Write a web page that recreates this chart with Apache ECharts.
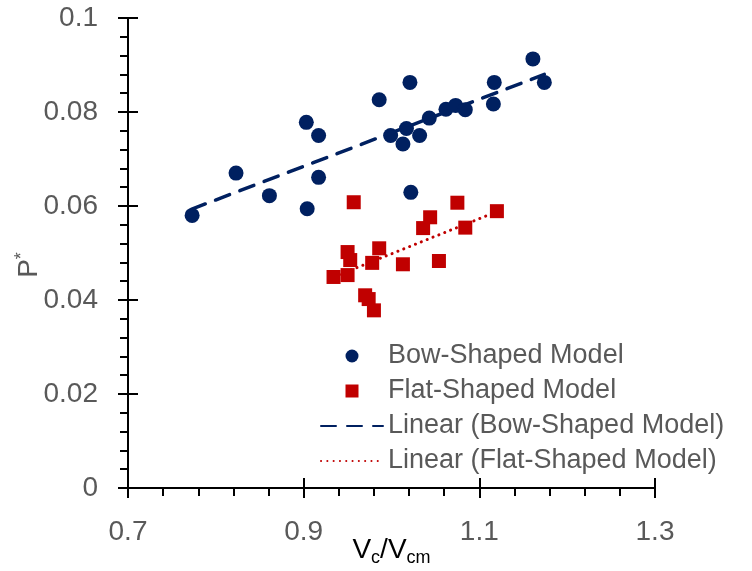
<!DOCTYPE html>
<html>
<head>
<meta charset="utf-8">
<script src="https://cdn.jsdelivr.net/npm/echarts@6/dist/echarts.min.js"></script>
<style>html,body{margin:0;padding:0;background:#fff}#c{width:752px;height:571px}</style>
</head>
<body>
<div id="c"></div>
<script>
// Bow-Shaped Model (circles)
const bowX = [0.773, 0.823, 0.861, 0.903, 0.904, 0.917, 0.917, 0.986, 0.999, 1.013, 1.017, 1.021, 1.032, 1.022, 1.043, 1.062, 1.073, 1.084, 1.117, 1.116, 1.161, 1.174];
const bowY = [0.0580, 0.0670, 0.0622, 0.0778, 0.0594, 0.0750, 0.0661, 0.0826, 0.0750, 0.0732, 0.0765, 0.0863, 0.0750, 0.0629, 0.0787, 0.0806, 0.0814, 0.0805, 0.0863, 0.0817, 0.0913, 0.0863];
// Flat-Shaped Model (squares)
const flatX = [0.957, 1.044, 1.036, 1.075, 1.084, 1.120, 0.950, 0.953, 0.986, 0.978, 1.013, 1.054, 0.934, 0.950, 0.970, 0.974, 0.980];
const flatY = [0.0608, 0.0576, 0.0553, 0.0607, 0.0554, 0.0589, 0.0502, 0.0485, 0.0510, 0.0479, 0.0476, 0.0483, 0.0449, 0.0453, 0.0410, 0.0402, 0.0378];
// Linear trend lines (end points)
const bowTrendX = [0.772, 1.174];
const bowTrendY = [0.0593, 0.0880];
const flatTrendX = [0.934, 1.120];
const flatTrendY = [0.0449, 0.0588];
// Axis tick settings
const xMin = 0.7, xMax = 1.3, xStep = 0.2;
const yMin = 0, yMax = 0.1, yStep = 0.02;
const legendNames = ['Bow-Shaped Model', 'Flat-Shaped Model', 'Linear (Bow-Shaped Model)', 'Linear (Flat-Shaped Model)'];

const zip = (a, b) => a.map((v, i) => [v, b[i]]);
const NAVY = '#002060', RED = '#C00000', GRAY = '#595959';
const FONT = 'Liberation Sans';
const SQUARE = 'path://M0,0H10V10H0Z';

const chart = echarts.init(document.getElementById('c'), null, {renderer: 'canvas'});
const baseX = {type: 'value', min: xMin, max: xMax, interval: xStep, position: 'bottom', splitLine: {show: false}};
const baseY = {type: 'value', min: yMin, max: yMax, interval: yStep, position: 'left', splitLine: {show: false}};
chart.setOption({
  animation: false,
  backgroundColor: '#fff',
  textStyle: {fontFamily: FONT},
  grid: {left: 128, right: 97, top: 18, bottom: 83, outerBoundsMode: 'none', containLabel: false},
  legend: {
    orient: 'vertical', left: 320, top: 341, padding: 0,
    itemWidth: 62, itemHeight: 13, itemGap: 5,
    textStyle: {fontSize: 27, color: GRAY, fontFamily: FONT, lineHeight: 30},
    data: [
      {name: legendNames[0], icon: 'circle'},
      {name: legendNames[1], icon: SQUARE},
      {name: legendNames[2], itemStyle: {opacity: 0}},
      {name: legendNames[3], itemStyle: {opacity: 0}}
    ]
  },
  xAxis: [
    Object.assign({}, baseX, {
      axisLine: {show: true, lineStyle: {color: '#000', width: 2}},
      axisTick: {show: true, inside: false, length: 10, lineStyle: {color: '#000', width: 2}},
      minorTick: {show: true, splitNumber: 5, length: 8, lineStyle: {color: '#000', width: 2}},
      axisLabel: {fontSize: 28, color: GRAY, margin: 30, fontFamily: FONT},
      name: '{a|V}{b|c}{a|/V}{b|cm}',
      nameLocation: 'middle', nameGap: 45, nameMoveOverlap: false,
      nameTextStyle: {rich: {
        a: {fontSize: 28, color: '#000', fontFamily: FONT},
        b: {fontSize: 18, color: '#000', fontFamily: FONT, padding: [16, 0, 0, 0]}
      }}
    }),
    Object.assign({}, baseX, {
      axisLine: {show: false},
      axisTick: {show: true, inside: true, length: 10, lineStyle: {color: '#000', width: 2}},
      axisLabel: {show: false}
    })
  ],
  yAxis: [
    Object.assign({}, baseY, {
      axisLine: {show: true, lineStyle: {color: '#000', width: 2}},
      axisTick: {show: true, inside: false, length: 10, lineStyle: {color: '#000', width: 2}},
      minorTick: {show: true, splitNumber: 5, length: 8, lineStyle: {color: '#000', width: 2}},
      axisLabel: {fontSize: 28, color: GRAY, margin: 30, fontFamily: FONT},
      name: '{p|P}{s|*}',
      nameLocation: 'middle', nameGap: 83, nameMoveOverlap: false,
      nameTextStyle: {padding: [0, 24, 0, 0], rich: {
        p: {fontSize: 28, color: GRAY, fontFamily: FONT},
        s: {fontSize: 18, color: GRAY, fontFamily: FONT, padding: [0, 0, 14, 0]}
      }}
    }),
    Object.assign({}, baseY, {
      axisLine: {show: false},
      axisTick: {show: true, inside: true, length: 10, lineStyle: {color: '#000', width: 2}},
      axisLabel: {show: false}
    })
  ],
  series: [
    {name: legendNames[0], type: 'scatter', symbol: 'circle', symbolSize: 15,
     itemStyle: {color: NAVY, opacity: 1}, data: zip(bowX, bowY), z: 3},
    {name: legendNames[1], type: 'scatter', symbol: 'rect', symbolSize: 14,
     itemStyle: {color: RED, opacity: 1}, data: zip(flatX, flatY), z: 3},
    {name: legendNames[2], type: 'line', symbol: 'none', showSymbol: false,
     lineStyle: {color: NAVY, width: 3.5, type: [15, 11], cap: 'round'}, itemStyle: {color: NAVY},
     data: zip(bowTrendX, bowTrendY), z: 4},
    {name: legendNames[3], type: 'line', symbol: 'none', showSymbol: false,
     lineStyle: {color: RED, width: 3, type: [0.1, 6.2], cap: 'round'}, itemStyle: {color: RED},
     data: zip(flatTrendX, flatTrendY), z: 4}
  ]
});
</script>
</body>
</html>
